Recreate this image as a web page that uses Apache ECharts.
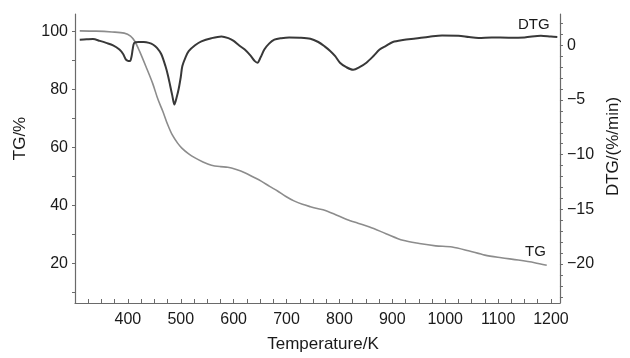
<!DOCTYPE html>
<html><head><meta charset="utf-8">
<script src="https://cdn.jsdelivr.net/npm/echarts@6/dist/echarts.min.js"></script>
<style>html,body{margin:0;padding:0;background:#fff}#c{width:630px;height:358px}</style>
</head><body><div id="c"></div>
<script>
// TG curve (Temperature/K, TG/%)
const tgTemp = [309,340,370,393,405,413,422,435,447,457,466,475,484,494,502,515,527,542,558,575,589,605,621,636,652,668,683,698,714,730,745,760,772,790,814,835,857,888,920,951,982,1013,1044,1075,1106,1138,1169,1192];
const tgValue = [100.2,100.1,99.8,99.4,98.4,96.6,93.2,87.5,82,76.5,72.5,68,64.3,61.5,59.8,57.8,56.4,55,53.9,53.4,53.2,52.4,51.3,49.9,48.4,46.6,45.0,43.2,41.6,40.4,39.6,38.9,38.4,37.1,35.2,33.9,32.6,30.3,28.0,26.9,26.1,25.7,24.4,22.9,22.0,21.2,20.3,19.4];
// DTG curve (Temperature/K, DTG/(%/min))
const dtgTemp = [309,322,334,347,359,372,384,391,396,400,404,407,409,412,421,430,440,448,455,463,471,476,480,484,488,492,496,500,503,509,515,527,539,558,577,590,600,610,621,632,640,645,651,658,667,677,690,705,725,745,760,772,782,792,801,813,826,838,851,864,876,888,901,920,944,970,994,1025,1045,1063,1088,1120,1150,1181,1200,1212];
const dtgValue = [0.51,0.55,0.58,0.4,0.22,0.0,-0.39,-0.8,-1.29,-1.42,-1.44,-1.0,-0.39,0.22,0.3,0.3,0.22,0.05,-0.24,-0.8,-1.9,-2.8,-3.7,-4.6,-5.42,-4.8,-4.0,-2.9,-1.9,-1.1,-0.54,0.0,0.36,0.65,0.81,0.65,0.4,0.0,-0.39,-0.95,-1.45,-1.59,-1.1,-0.39,0.15,0.51,0.65,0.72,0.7,0.6,0.3,-0.1,-0.5,-1.0,-1.59,-2.0,-2.24,-2.0,-1.59,-1.0,-0.39,-0.05,0.3,0.48,0.62,0.78,0.9,0.88,0.75,0.67,0.72,0.7,0.72,0.88,0.8,0.76];
// tick labels
const xLabels = [400,500,600,700,800,900,1000,1100,1200];
const tgLabels = [20,40,60,80,100];
const dtgLabels = [0,-5,-10,-15,-20];
const xTicks = []; for (let v = 325; v <= 1200; v += 25) xTicks.push(v);
const tgTicks = []; for (let v = 10; v <= 100; v += 10) tgTicks.push(v);
const dtgTicks = []; for (let v = -23; v <= 2; v += 1) dtgTicks.push(v);

const font = 'Liberation Sans, Arial, sans-serif';
const axisCol = '#6a6a6a';
const chart = echarts.init(document.getElementById('c'), null, {renderer: 'canvas'});
chart.setOption({
  animation: false,
  backgroundColor: '#fff',
  grid: {left: 75, right: 64, top: 14, bottom: 51},
  xAxis: {
    type: 'value', min: 300, max: 1217,
    name: 'Temperature/K', nameLocation: 'middle', nameGap: 33,
    nameTextStyle: {fontFamily: font, fontSize: 17, color: '#1a1a1a', padding: [0, 0, 0, 11]},
    axisLine: {show: true, onZero: false, lineStyle: {color: axisCol, width: 1.2}},
    axisTick: {show: true, inside: true, length: 4, customValues: xTicks, lineStyle: {color: axisCol}},
    axisLabel: {customValues: xLabels, margin: 9, fontFamily: font, fontSize: 16, color: '#1a1a1a',
      formatter: v => String(v)},
    splitLine: {show: false}
  },
  yAxis: [{
    type: 'value', min: 6.4, max: 106, position: 'left',
    name: 'TG/%', nameLocation: 'middle', nameRotate: 90, nameGap: 46,
    nameTextStyle: {fontFamily: font, fontSize: 17, color: '#1a1a1a', padding: [0, 0, 0, 40]},
    axisLine: {show: true, onZero: false, lineStyle: {color: axisCol, width: 1.2}},
    axisTick: {show: true, length: 3, customValues: tgTicks, lineStyle: {color: axisCol}},
    axisLabel: {customValues: tgLabels, margin: 7, fontFamily: font, fontSize: 16, color: '#1a1a1a'},
    splitLine: {show: false}
  }, {
    type: 'value', min: -23.56, max: 2.86, position: 'right',
    name: 'DTG/(%/min)', nameLocation: 'middle', nameRotate: 90, nameGap: 20,
    nameTextStyle: {fontFamily: font, fontSize: 17, color: '#1a1a1a', padding: [0, 0, 0, 24]},
    axisLine: {show: true, onZero: false, lineStyle: {color: axisCol, width: 1.2}},
    axisTick: {show: true, length: 3, customValues: dtgTicks, lineStyle: {color: axisCol}},
    axisLabel: {customValues: dtgLabels, margin: 7, fontFamily: font, fontSize: 16, color: '#1a1a1a',
      formatter: v => (v < 0 ? '\u2212' + Math.abs(v) : String(v))},
    splitLine: {show: false}
  }],
  series: [{
    name: 'TG', type: 'line', yAxisIndex: 0, showSymbol: false, smooth: 0.3,
    data: tgTemp.map((t, i) => [t, tgValue[i]]),
    lineStyle: {color: '#8c8c8c', width: 1.6}
  }, {
    name: 'DTG', type: 'line', yAxisIndex: 1, showSymbol: false, smooth: 0.3,
    data: dtgTemp.map((t, i) => [t, dtgValue[i]]),
    lineStyle: {color: '#383838', width: 2}
  }],
  graphic: [
    {type: 'text', left: 518, top: 17, style: {text: 'DTG', fontFamily: font, fontSize: 15, fill: '#1a1a1a'}},
    {type: 'text', left: 525, top: 244, style: {text: 'TG', fontFamily: font, fontSize: 15, fill: '#1a1a1a'}}
  ]
});
</script></body></html>
